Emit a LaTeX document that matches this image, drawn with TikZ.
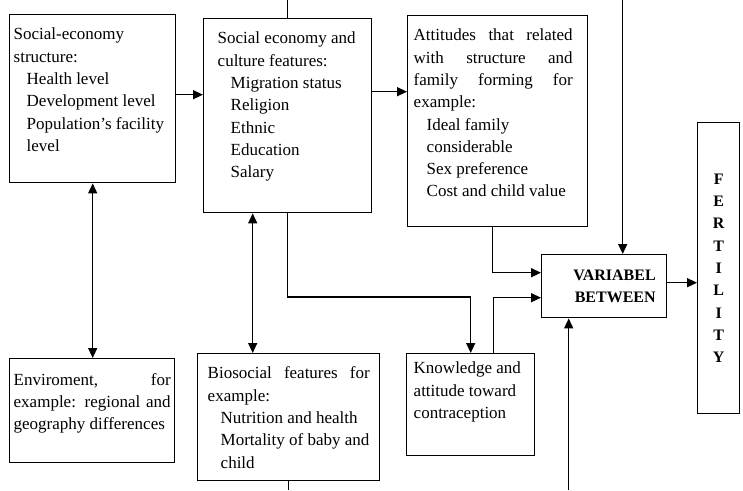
\documentclass[tikz,border=0pt]{standalone}
\usepackage{fontspec}
\setmainfont{Liberation Serif}
\usetikzlibrary{arrows.meta}

% top aligned text block of a fixed size inside a box
\newcommand{\panel}[3]{\parbox[t][#2][t]{#1}{\strut#3}}
\newcommand{\sublist}{\hspace*{13pt}}

\tikzset{
  box/.style={draw, line width=1.4pt, anchor=north west, inner ysep=9.5pt,
    font=\fontsize{17}{22.3}\selectfont},
  line/.style={line width=1.4pt},
  link/.style={line width=1.4pt, -{Triangle[length=10pt,width=9pt]}},
  duplex/.style={line width=1.4pt, {Triangle[length=10pt,width=9pt]}-{Triangle[length=10pt,width=9pt]}},
}

\begin{document}
\begin{tikzpicture}[x=1pt,y=-1pt]
	\useasboundingbox (0,0) rectangle (743,490);
	\coordinate (topedge) at (0,0);
	\coordinate (bottomedge) at (0,490);

	% boxes
	\node[box, inner xsep=4pt] (structure) at (9,14) {\panel{158pt}{149pt}{%
		Social-economy\\
		structure:\\
		\sublist Health level\\
		\sublist Development level\\
		\sublist Population’s facility\\
		\sublist level}};
	\node[box, inner xsep=14pt] (culture) at (203,18) {\panel{140pt}{175pt}{%
		Social economy and\\
		culture features:\\
		\sublist Migration status\\
		\sublist Religion\\
		\sublist Ethnic\\
		\sublist Education\\
		\sublist Salary}};
	\node[box, inner xsep=6pt] (attitudes) at (407,15) {\panel{168pt}{192pt}{%
		\makebox[159pt][s]{Attitudes that related}\\
		\makebox[159pt][s]{with structure and}\\
		\makebox[159pt][s]{family forming for}\\
		example:\\
		\sublist Ideal family\\
		\sublist considerable\\
		\sublist Sex preference\\
		\sublist Cost and child value}};
	\node[box, inner xsep=4pt, inner ysep=11pt] (environment) at (9,358) {\panel{157pt}{82pt}{%
		\makebox[157pt][s]{Enviroment, for}\\
		\makebox[157pt][s]{example: regional and}\\
		geography differences}};
	\node[box, inner xsep=10pt] (biosocial) at (197,353) {\panel{162pt}{108pt}{%
		\makebox[162pt][s]{Biosocial features for}\\
		example:\\
		\sublist Nutrition and health\\
		\sublist Mortality of baby and\\
		\sublist child}};
	\node[box, inner xsep=7pt, inner ysep=4.5pt] (knowledge) at (406,353) {\panel{114pt}{93pt}{%
		Knowledge and\\
		attitude toward\\
		contraception}};
	\node[box, inner xsep=11pt, inner ysep=0pt, text width=103pt, align=right,
		minimum height=63pt, font=\fontsize{16}{22}\selectfont\bfseries] (variabel) at (541,254)
		{VARIABEL\\BETWEEN};
	\node[box, inner sep=0pt, minimum width=42pt, minimum height=291pt, align=center,
		font=\fontsize{16}{22.3}\selectfont\bfseries] (fertility) at (697,122)
		{F\\E\\R\\T\\I\\L\\I\\T\\Y};

	% connectors
	\draw[link] ([yshift=4pt]structure.east) -- ([yshift=4pt]structure.east -| culture.west);
	\draw[link] ([yshift=24pt]culture.east) -- ([yshift=24pt]culture.east -| attitudes.west);
	\draw[line] (culture.north) -- (culture.north |- topedge);
	\draw[duplex] (structure.south) -- (structure.south |- environment.north);
	\draw[duplex] ([xshift=-35pt]culture.south) -- ([xshift=-35pt]culture.south |- biosocial.north);
	\coordinate (kbend) at (knowledge.north |- 0,297);
	\draw[link] (culture.south) |- (kbend) -- (knowledge.north);
	\draw[line] (biosocial.south) -- (biosocial.south |- bottomedge);
	\draw[link] ([xshift=-5pt]attitudes.south) |- ([yshift=13.5pt]variabel.west);
	\draw[link] ([xshift=23pt]knowledge.north) |- ([yshift=-11.5pt]variabel.west);
	\draw[link] ([xshift=18.5pt]variabel.north |- topedge) -- ([xshift=18.5pt]variabel.north);
	\draw[link] ([xshift=-35.5pt]variabel.south |- bottomedge) -- ([xshift=-35.5pt]variabel.south);
	\draw[link] ([yshift=3.5pt]variabel.east) -- ([yshift=3.5pt]variabel.east -| fertility.west);
\end{tikzpicture}
\end{document}
